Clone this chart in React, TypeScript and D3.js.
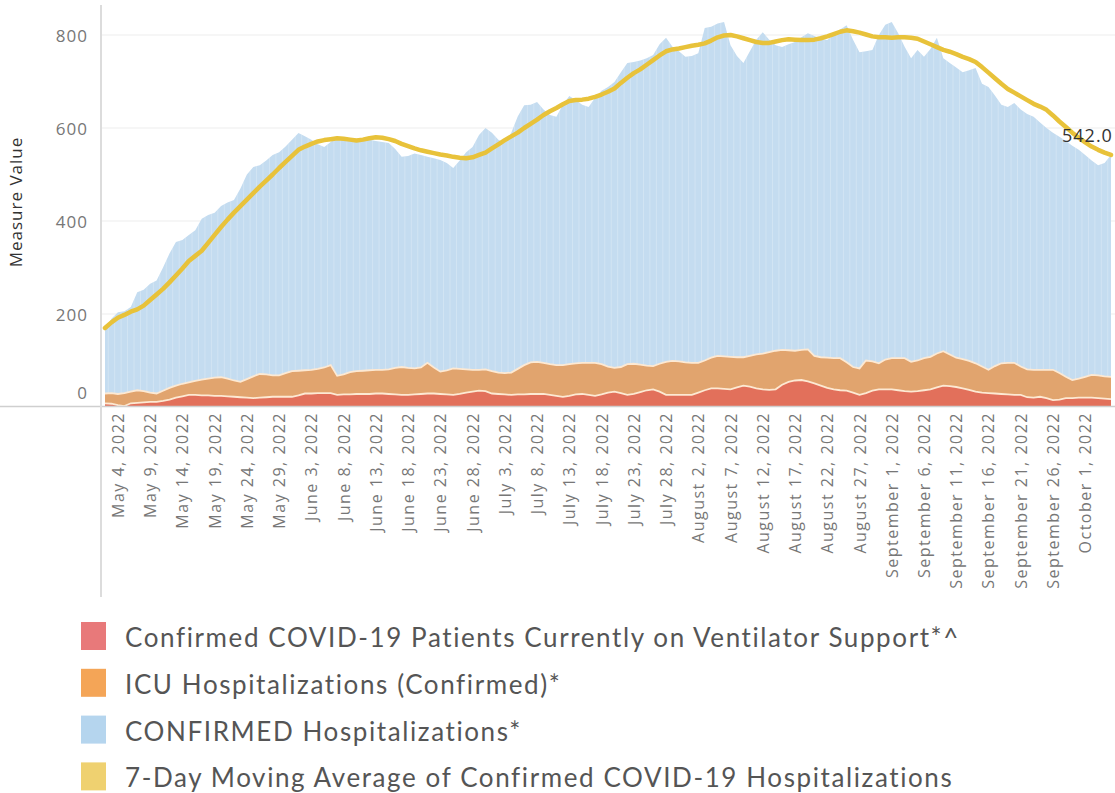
import React, { useRef, useEffect } from "react";
import * as d3 from "d3";

// daily values, May 2 2022 -> Oct 5 2022
const startDate = new Date(Date.UTC(2022, 4, 2));

const confirmedHosp = [
  166, 190, 204, 206, 215, 247, 252, 265, 272, 300,
  330, 355, 359, 370, 380, 405, 413, 418, 432, 440,
  445, 470, 500, 516, 520, 530, 542, 548, 560, 575,
  589, 582, 575, 565, 559, 570, 581, 578, 575, 574,
  578, 575, 572, 570, 568, 555, 538, 540, 545, 542,
  538, 535, 531, 525, 514, 530, 548, 559, 585, 600,
  590, 575, 568, 590, 625, 649, 650, 656, 640, 628,
  624, 650, 669, 660, 650, 645, 665, 680, 688, 699,
  720, 740, 742, 745, 750, 757, 780, 794, 775, 765,
  753, 755, 761, 815, 818, 825, 828, 778, 755, 740,
  765, 790, 806, 790, 778, 774, 780, 785, 795, 804,
  798, 792, 789, 800, 812, 821, 790, 763, 765, 768,
  800, 822, 828, 804, 775, 750, 768, 753, 770, 794,
  750, 740, 730, 720, 724, 729, 695, 688, 670, 650,
  645, 654, 640, 630, 624, 612, 600, 590, 581, 572,
  562, 553, 542, 530, 520, 525, 542,
];

const movingAvg = [
  170, 182, 192, 198, 205, 210, 218, 230, 242, 254,
  268, 283, 298, 314, 325, 336, 353, 370, 387, 403,
  418, 432, 446, 460, 474, 487, 500, 514, 527, 540,
  553, 560, 566, 571, 574, 576, 578, 577, 575, 573,
  575, 578, 580, 579, 576, 572, 566, 561, 556, 552,
  549, 546, 543, 541, 538, 536, 535, 537, 542, 547,
  556, 565, 574, 582, 590, 600, 609, 618, 628, 636,
  643, 651, 658, 660, 661, 663, 667, 672, 678, 685,
  697, 708, 718, 726, 736, 746, 756, 765, 769, 771,
  774, 777, 779, 782, 788, 795, 799, 800, 797, 793,
  789, 785, 783, 783, 786, 789, 791, 790, 789, 789,
  790, 793, 797, 802, 807, 810, 808, 805, 801, 797,
  795, 795, 794, 795, 795, 794, 792, 786, 780, 774,
  768, 764, 759, 753, 748, 742, 731, 719, 707, 695,
  684, 676, 668, 660, 652, 646, 639, 627, 614, 602,
  590, 579, 569, 560, 553, 547, 542,
];

const icuHosp = [
  29, 30, 28, 30, 33, 36, 34, 31, 29, 35,
  41, 46, 50, 53, 56, 59, 61, 63, 64, 61,
  57, 54, 60, 66, 71, 70, 68, 68, 73, 77,
  78, 79, 80, 82, 85, 90, 67, 70, 75, 77,
  78, 79, 80, 80, 81, 84, 86, 84, 83, 85,
  95, 85, 76, 79, 83, 82, 81, 80, 80, 81,
  77, 74, 73, 74, 82, 90, 96, 97, 95, 92,
  90, 90, 92, 94, 95, 95, 95, 92, 87, 84,
  86, 92, 93, 91, 89, 88, 93, 97, 99, 98,
  96, 95, 95, 100, 106, 110, 109, 108, 107, 107,
  110, 113, 115, 118, 121, 123, 122, 121, 123, 124,
  110, 107, 106, 105, 105, 96, 86, 83, 100, 98,
  94, 102, 105, 105, 105, 97, 100, 105, 108, 115,
  120, 113, 106, 103, 99, 94, 87, 80, 88, 94,
  95, 95, 87, 81, 80, 80, 80, 80, 73, 65,
  58, 61, 65, 69, 68, 66, 65,
];

const ventilator = [
  8, 7, 4, 2, 8, 9, 10, 11, 11, 13,
  16, 20, 23, 26, 26, 25, 25, 24, 24, 23,
  22, 21, 20, 19, 20, 21, 22, 22, 22, 22,
  25, 29, 29, 30, 30, 30, 26, 27, 27, 28,
  28, 28, 29, 29, 28, 27, 26, 26, 27, 28,
  29, 29, 28, 27, 26, 28, 31, 33, 35, 34,
  29, 28, 27, 26, 27, 27, 28, 28, 28, 26,
  24, 22, 24, 27, 28, 26, 24, 27, 31, 33,
  30, 26, 28, 32, 36, 38, 33, 26, 26, 26,
  26, 26, 31, 36, 40, 40, 39, 38, 42, 46,
  44, 40, 38, 37, 38, 48, 54, 57, 58, 55,
  51, 46, 41, 38, 36, 35, 31, 26, 30, 35,
  38, 38, 38, 36, 34, 33, 34, 36, 38, 42,
  46, 45, 43, 40, 37, 33, 31, 30, 29, 28,
  27, 26, 26, 21, 20, 22, 19, 15, 16, 19,
  19, 20, 20, 20, 19, 18, 17,
];

const yTicks = [0, 200, 400, 600, 800];

const legendLabels = [
  "Confirmed COVID-19 Patients Currently on Ventilator Support*^",
  "ICU Hospitalizations (Confirmed)*",
  "CONFIRMED Hospitalizations*",
  "7-Day Moving Average of Confirmed COVID-19 Hospitalizations",
];

function App() {
  const svgRef = useRef<SVGSVGElement>(null);

  useEffect(() => {
    d3.select(svgRef.current).selectAll("*").remove();
    const width = 1115;
    const svg = d3.select(svgRef.current);

    const dates = confirmedHosp.map((_, i) => d3.utcDay.offset(startDate, i));
    const x = d3.scaleUtc()
      .domain([dates[0], dates[dates.length - 1]])
      .range([105, 1111]);
    const y = d3.scaleLinear().domain([0, 800]).range([407, 35]);
    const step = x(dates[1]) - x(dates[0]);
    const tickFont = "'Open Sans', sans-serif";

    // gridlines
    svg.append("g")
      .selectAll("line")
      .data(yTicks.filter((t) => t > 0))
      .join("line")
      .attr("x1", 101).attr("x2", width)
      .attr("y1", (d) => y(d)).attr("y2", (d) => y(d))
      .attr("stroke", "#eeeeee").attr("stroke-width", 1.2);

    const areaOf = (vals: number[]) => d3.area<number>()
      .x((_, i) => x(dates[i]))
      .y0(y(0))
      .y1((d) => y(d))(vals);
    const lineOf = (vals: number[]) => d3.line<number>()
      .x((_, i) => x(dates[i]))
      .y((d) => y(d))(vals);

    // confirmed hospitalizations
    svg.append("clipPath").attr("id", "blueClip")
      .append("path").attr("d", areaOf(confirmedHosp));
    svg.append("path")
      .attr("d", areaOf(confirmedHosp))
      .attr("fill", "#c4dcf0");
    svg.append("g")
      .attr("clip-path", "url(#blueClip)")
      .selectAll("line")
      .data(dates)
      .join("line")
      .attr("x1", (d) => x(d) + step / 2).attr("x2", (d) => x(d) + step / 2)
      .attr("y1", 0).attr("y2", y(0))
      .attr("stroke", "#ffffff").attr("stroke-opacity", 0.3).attr("stroke-width", 0.8);

    // ICU
    svg.append("path")
      .attr("d", areaOf(icuHosp))
      .attr("fill", "#e1a46e");
    svg.append("path")
      .attr("d", lineOf(icuHosp))
      .attr("fill", "none").attr("stroke", "#fde9d3").attr("stroke-width", 1.8);

    // ventilator
    svg.append("path")
      .attr("d", areaOf(ventilator))
      .attr("fill", "#e2705b");
    svg.append("path")
      .attr("d", lineOf(ventilator))
      .attr("fill", "none").attr("stroke", "#fde9d3").attr("stroke-width", 1.8);

    // moving average
    svg.append("path")
      .attr("d", lineOf(movingAvg))
      .attr("fill", "none")
      .attr("stroke", "#e8c23a")
      .attr("stroke-width", 4.5)
      .attr("stroke-linejoin", "round")
      .attr("stroke-linecap", "round");

    const last = movingAvg.length - 1;
    svg.append("text")
      .attr("x", x(dates[last]) - 49)
      .attr("y", y(movingAvg[last]) - 20)
      .attr("dominant-baseline", "central")
      .attr("font-family", tickFont)
      .attr("font-size", 18)
      .attr("letter-spacing", 1)
      .attr("fill", "#333")
      .text(d3.format(".1f")(movingAvg[last]));

    // axis lines
    svg.append("line")
      .attr("x1", 0).attr("x2", width)
      .attr("y1", y(0) - 0.5).attr("y2", y(0) - 0.5)
      .attr("stroke", "#cfcfcf").attr("stroke-width", 1.5);
    svg.append("line")
      .attr("x1", 101).attr("x2", 101)
      .attr("y1", 5).attr("y2", 597)
      .attr("stroke", "#dcdcdc").attr("stroke-width", 2);

    // y tick labels
    svg.append("g")
      .selectAll("text")
      .data(yTicks)
      .join("text")
      .attr("x", 88)
      .attr("y", (d) => Math.min(y(d), y(0) - 15))
      .attr("text-anchor", "end")
      .attr("dominant-baseline", "central")
      .attr("font-family", tickFont)
      .attr("font-size", 17)
      .attr("letter-spacing", 1)
      .attr("fill", "#777")
      .text((d) => d);

    svg.append("text")
      .attr("transform", "translate(15,202) rotate(-90)")
      .attr("text-anchor", "middle")
      .attr("dominant-baseline", "central")
      .attr("font-family", tickFont)
      .attr("font-size", 17)
      .attr("letter-spacing", 1)
      .attr("fill", "#333")
      .text("Measure Value");

    // date labels
    const fmt = d3.utcFormat("%B %-d, %Y");
    svg.append("g")
      .selectAll("text")
      .data(dates.filter((_, i) => (i - 2) % 5 === 0 && i >= 2))
      .join("text")
      .attr("transform", (d) => `translate(${x(d)},412) rotate(-90)`)
      .attr("text-anchor", "end")
      .attr("dominant-baseline", "central")
      .attr("font-family", tickFont)
      .attr("font-size", 16)
      .attr("letter-spacing", 1.5)
      .attr("fill", "#777")
      .text((d) => fmt(d));

    // legend
    const legendColors = ["#e8797a", "#f4a557", "#b5d5ee", "#efd170"];
    const legend = svg.append("g")
      .selectAll("g")
      .data(legendLabels)
      .join("g")
      .attr("transform", (_, i) => `translate(81,${622 + i * 46.8})`);
    legend.append("rect")
      .attr("width", 25).attr("height", 28)
      .attr("fill", (_, i) => legendColors[i]);
    legend.append("text")
      .attr("x", 44).attr("y", 15)
      .attr("dominant-baseline", "central")
      .attr("font-family", "Lato, sans-serif")
      .attr("font-size", 26)
      .attr("letter-spacing", 1.6)
      .attr("fill", "#555")
      .text((d) => d);
  }, []);

  return (
    <div>
      <svg
        ref={svgRef}
        width={1115}
        height={793}
        style={{ position: "absolute", left: 0, top: 0, background: "#fff" }}
      ></svg>
    </div>
  );
}

export default App;
